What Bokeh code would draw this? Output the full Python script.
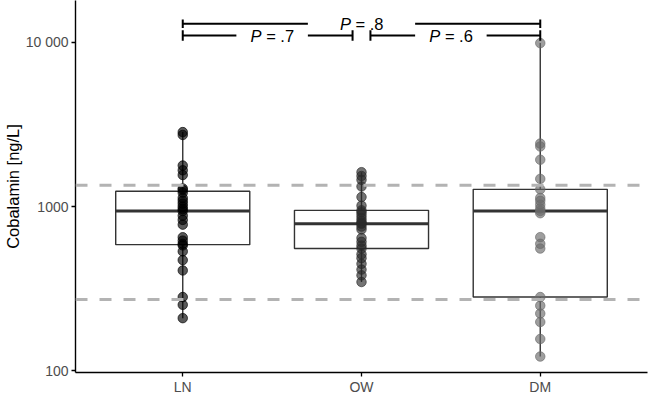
import numpy as np
from bokeh.plotting import figure
from bokeh.models import Range1d, FixedTicker, Span
from bokeh.core.properties import value
from bokeh.embed import file_html
from bokeh.resources import INLINE

# ---------------- data ----------------
groups = ["LN", "OW", "DM"]
ln_values = [209, 252, 281, 408, 472, 533, 580, 592, 620, 650, 776, 829, 880, 940,
             965, 1000, 1041, 1084, 1128, 1215, 1262, 1289, 1556, 1663, 1778, 2729, 2841]
ow_values = [347, 381, 413, 448, 485, 512, 555, 578, 610, 643, 725, 755, 785, 796,
             818, 851, 887, 923, 948, 1013, 1143, 1325, 1455, 1535, 1619]
dm_values = [122, 156, 198, 223, 249, 281, 555, 593, 651, 911, 940, 974, 1027, 1084,
             1128, 1273, 1474, 1928, 2323, 2419, 9900]
group_values = [ln_values, ow_values, dm_values]
point_colors = ["#000000", "#2a2a2a", "#6a6a6a"]

reference_limits = [271, 1350]

y_ticks = [100, 1000, 10000]
y_tick_labels = ["100", "1000", "10 000"]

comparisons = [("LN", "OW"), ("OW", "DM"), ("LN", "DM")]
p_values = [".7", ".6", ".8"]
bracket_levels = [11000, 11000, 13000]

# ---------------- style constants ----------------
FONT = "Liberation Sans"
BOX_HALF = 0.375
INNER_SHRINK = 0.05
CAP = [0.032, 0.032, 0.026]
GAP_HALF = [0.2, 0.2, 0.3]

p = figure(width=649, height=397, y_axis_type="log",
           x_range=Range1d(0.4, 3.6), y_range=Range1d(97.5, 18000),
           output_backend="svg", toolbar_location=None,
           min_border=0, min_border_right=2, min_border_top=0)
p.background_fill_color = "white"
p.border_fill_color = "white"
p.outline_line_color = None
p.grid.visible = False

# ---------------- boxplots ----------------
for gi, vals in enumerate(group_values):
    x = gi + 1
    lv = np.log10(np.array(vals, dtype=float))
    q1, med, q3 = np.percentile(lv, [25, 50, 75])
    iqr = q3 - q1
    lo = lv[lv >= q1 - 1.5 * iqr].min()
    hi = lv[lv <= q3 + 1.5 * iqr].max()
    Q1, MED, Q3, LO, HI = [10 ** v for v in (q1, med, q3, lo, hi)]
    p.segment(x0=[x, x], x1=[x, x], y0=[Q3, Q1], y1=[HI, LO],
              line_color="#333333", line_width=1.4)
    p.quad(left=[x - BOX_HALF], right=[x + BOX_HALF], bottom=[Q1], top=[Q3],
           fill_color="white", line_color="#333333", line_width=1.4)
    p.segment(x0=[x - BOX_HALF], x1=[x + BOX_HALF], y0=[MED], y1=[MED],
              line_color="#333333", line_width=3)

for gi, vals in enumerate(group_values):
    p.scatter(x=[gi + 1] * len(vals), y=vals, size=9.5,
              fill_color=point_colors[gi], line_color=point_colors[gi],
              fill_alpha=0.65, line_alpha=0.65)

# ---------------- reference lines ----------------
for lim in reference_limits:
    p.add_layout(Span(location=lim, dimension="width", line_color="#b3b3b3",
                      line_width=3, line_dash="12 12"))

# ---------------- significance brackets ----------------
level_counts = {}
for (a, b), lvl in zip(comparisons, bracket_levels):
    for g in (a, b):
        level_counts[(g, lvl)] = level_counts.get((g, lvl), 0) + 1

for k, ((a, b), pv, lvl) in enumerate(zip(comparisons, p_values, bracket_levels)):
    xa = groups.index(a) + 1
    xb = groups.index(b) + 1
    if level_counts[(a, lvl)] > 1:
        xa += INNER_SHRINK
    if level_counts[(b, lvl)] > 1:
        xb -= INNER_SHRINK
    xm = (groups.index(a) + groups.index(b)) / 2 + 1
    p.segment(x0=[xa, xm + GAP_HALF[k]], x1=[xm - GAP_HALF[k], xb],
              y0=[lvl, lvl], y1=[lvl, lvl], line_color="black", line_width=2)
    f = 10 ** CAP[k]
    p.segment(x0=[xa, xb], x1=[xa, xb], y0=[lvl / f, lvl / f], y1=[lvl * f, lvl * f],
              line_color="black", line_width=2)
    p.text(x=[xm], y=[lvl], text=["P"], text_font=value(FONT),
           text_font_style="italic", text_font_size="16.5px",
           text_align="right", text_baseline="middle", x_offset=-10.5, text_color="black")
    p.text(x=[xm], y=[lvl], text=["= " + pv], text_font=value(FONT),
           text_font_size="16.5px", text_align="left", text_baseline="middle",
           x_offset=-6, text_color="black")

# ---------------- axes ----------------
p.yaxis.ticker = FixedTicker(ticks=y_ticks)
p.yaxis.major_label_overrides = dict(zip(y_ticks, y_tick_labels))
p.xaxis.ticker = FixedTicker(ticks=[i + 1 for i in range(len(groups))])
p.xaxis.major_label_overrides = {i + 1: g for i, g in enumerate(groups)}

for ax in (p.xaxis, p.yaxis):
    ax.axis_line_color = "black"
    ax.axis_line_width = 1.4
    ax.major_tick_line_color = "black"
    ax.major_tick_line_width = 1.3
    ax.major_tick_in = 0
    ax.major_tick_out = 4
    ax.minor_tick_line_color = None
    ax.major_label_text_font = FONT
    ax.major_label_text_font_size = "14px"
    ax.major_label_text_color = "#4d4d4d"
    ax.major_label_standoff = 3

p.xaxis.major_label_standoff = 2
p.xaxis.axis_label = None
p.xaxis.axis_label_standoff = 0

p.yaxis.axis_label = "Cobalamin [ng/L]"
p.yaxis.axis_label_text_font = FONT
p.yaxis.axis_label_text_font_size = "16.5px"
p.yaxis.axis_label_text_font_style = "normal"
p.yaxis.axis_label_text_color = "black"
p.yaxis.axis_label_standoff = 1

open("out.html", "w").write(file_html(p, INLINE))
